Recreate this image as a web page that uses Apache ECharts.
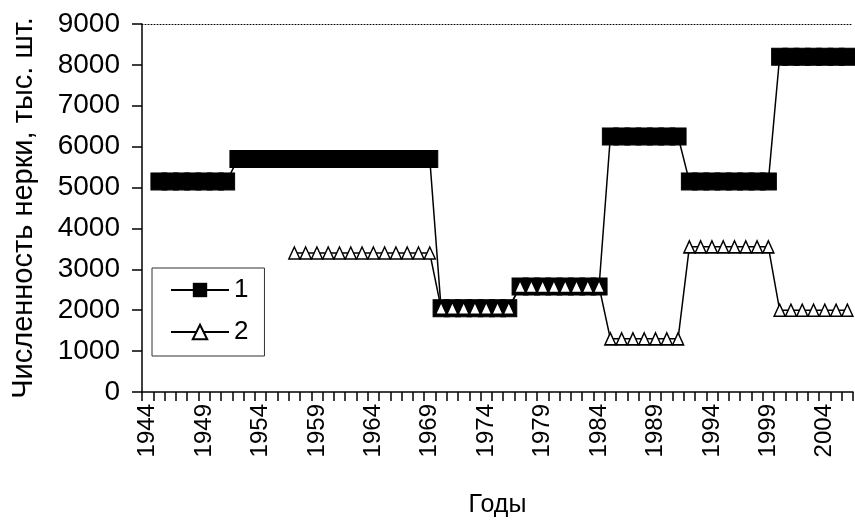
<!DOCTYPE html>
<html>
<head>
<meta charset="utf-8">
<script src="https://cdn.jsdelivr.net/npm/echarts@6/dist/echarts.min.js"></script>
<style>
html,body{margin:0;padding:0;background:#fff;}
#chart{width:855px;height:522px;}
</style>
</head>
<body>
<div id="chart"></div>
<script>
var years = ['1944','1945','1946','1947','1948','1949','1950','1951','1952','1953',
  '1954','1955','1956','1957','1958','1959','1960','1961','1962','1963',
  '1964','1965','1966','1967','1968','1969','1970','1971','1972','1973',
  '1974','1975','1976','1977','1978','1979','1980','1981','1982','1983',
  '1984','1985','1986','1987','1988','1989','1990','1991','1992','1993',
  '1994','1995','1996','1997','1998','1999','2000','2001','2002','2003',
  '2004','2005','2006'];

// Series 1 (black squares)
var series1 = [null,
  5150,5150,5150,5150,5150,5150,5150,
  5700,5700,5700,5700,5700,5700,5700,5700,5700,5700,5700,5700,5700,5700,5700,5700,5700,5700,
  2050,2050,2050,2050,2050,2050,2050,
  2580,2580,2580,2580,2580,2580,2580,2580,
  6250,6250,6250,6250,6250,6250,6250,
  5150,5150,5150,5150,5150,5150,5150,5150,
  8200,8200,8200,8200,8200,8200,8200];

// Series 2 (open triangles)
var series2 = [null,null,null,null,null,null,null,null,null,null,null,null,null,
  3400,3400,3400,3400,3400,3400,3400,3400,3400,3400,3400,3400,3400,
  2050,2050,2050,2050,2050,2050,2050,
  2580,2580,2580,2580,2580,2580,2580,2580,
  1300,1300,1300,1300,1300,1300,1300,
  3550,3550,3550,3550,3550,3550,3550,3550,
  2000,2000,2000,2000,2000,2000,2000];

var seriesNames = ['1','2'];
var yTicks = {min:0, max:9000, interval:1000};

var FONT = '"Liberation Sans", Arial, sans-serif';
var chart = echarts.init(document.getElementById('chart'), null, {renderer:'canvas'});
chart.setOption({
  animation:false,
  backgroundColor:'#fff',
  textStyle:{fontFamily:FONT, color:'#000'},
  grid:{left:142, right:2, top:24, bottom:130, containLabel:false, outerBoundsMode:'none'},
  legend:{
    data:seriesNames,
    orient:'vertical',
    left:152, top:268,
    borderColor:'#333', borderWidth:1,
    padding:[9,16,11,18],
    itemWidth:58, itemHeight:18, itemGap:16,
    textStyle:{fontSize:26, color:'#000', fontFamily:FONT}
  },
  xAxis:[{
    type:'category',
    data:years,
    boundaryGap:true,
    name:'Годы',
    nameLocation:'middle',
    nameGap:101,
    nameTextStyle:{fontSize:25, color:'#000', fontFamily:FONT},
    axisLine:{lineStyle:{color:'#000', width:1.5}},
    axisTick:{show:true, interval:0, length:9, lineStyle:{color:'#000', width:1.5}},
    axisLabel:{interval:4, rotate:90, fontSize:24, margin:12, color:'#000', fontFamily:FONT}
  },{
    type:'category',
    data:years,
    position:'top',
    axisLine:{show:true, lineStyle:{color:'#000', width:1, type:[1,2]}},
    axisTick:{show:false},
    axisLabel:{show:false}
  }],
  yAxis:{
    type:'value',
    min:yTicks.min, max:yTicks.max, interval:yTicks.interval,
    name:'Численность нерки, тыс. шт.',
    nameLocation:'middle',
    nameRotate:90,
    nameGap:104,
    nameTextStyle:{fontSize:29, color:'#000', fontFamily:FONT},
    axisLine:{show:true, lineStyle:{color:'#000', width:1.5}},
    axisTick:{show:true, length:10, lineStyle:{color:'#000', width:1.5}},
    axisLabel:{fontSize:28, margin:22, color:'#000', fontFamily:FONT,
      formatter:function(v){return String(v);}},
    splitLine:{show:false}
  },
  series:[{
    name:seriesNames[0],
    type:'line',
    data:series1,
    symbol:'rect',
    symbolSize:[16,17],
    showAllSymbol:true,
    connectNulls:false,
    lineStyle:{color:'#000', width:1.5},
    itemStyle:{color:'#000', borderColor:'#000'},
    z:2
  },{
    name:seriesNames[1],
    type:'line',
    data:series2,
    symbol:'triangle',
    symbolSize:[11,12],
    showAllSymbol:true,
    lineStyle:{color:'#000', width:1.5},
    itemStyle:{color:'#fff', borderColor:'#000', borderWidth:1.5},
    z:3
  }]
});
</script>
</body>
</html>
